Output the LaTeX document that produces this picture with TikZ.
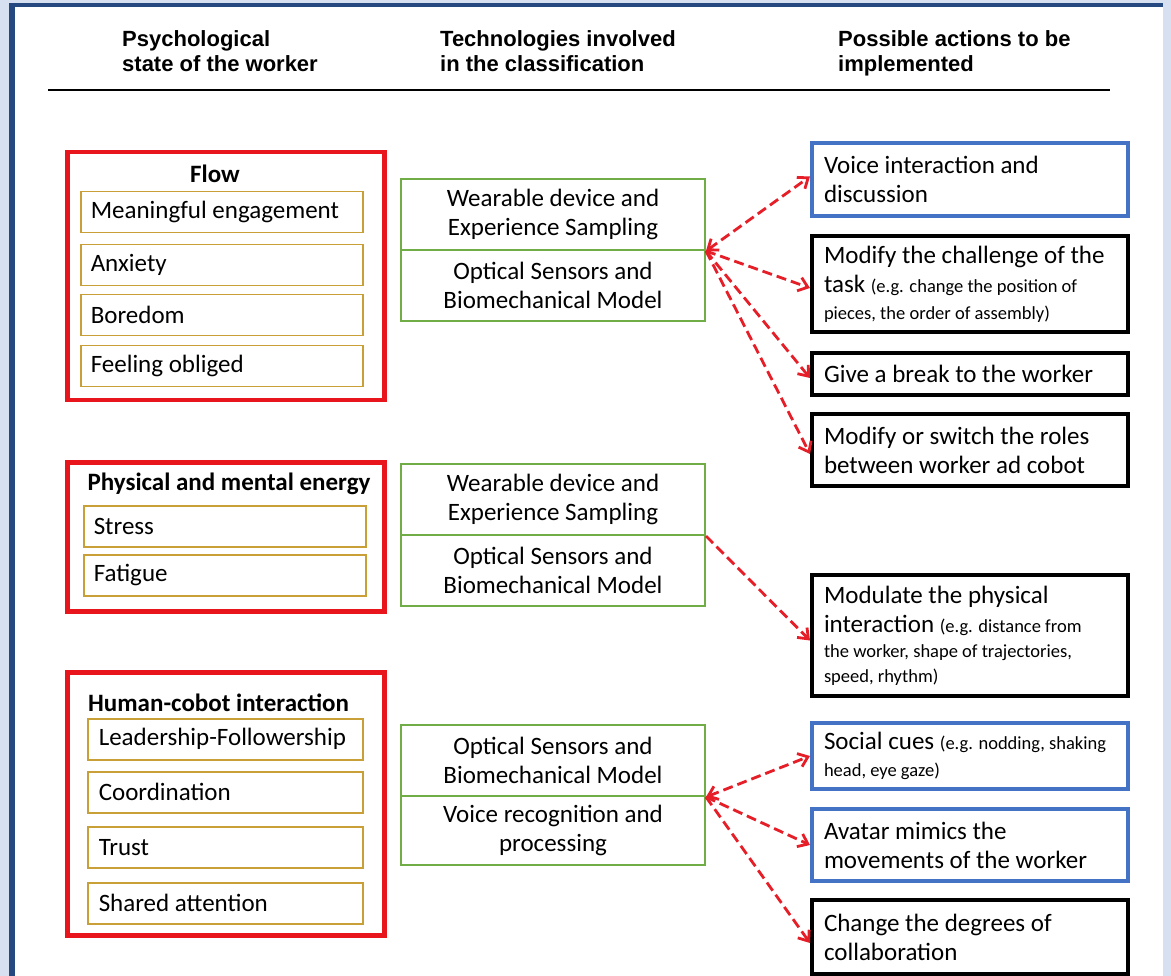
\documentclass[tikz,border=0pt]{standalone}
\usepackage{fontspec}
\setmainfont{Carlito}
\newfontfamily\hdrfont{Liberation Sans}
\usetikzlibrary{arrows.meta}
\definecolor{redc}{RGB}{232,22,28}
\definecolor{goldc}{RGB}{200,160,55}
\definecolor{greenc}{RGB}{112,173,71}
\definecolor{bluec}{RGB}{68,114,196}
\definecolor{framedark}{RGB}{38,72,128}
\definecolor{framelight}{RGB}{214,224,240}
\definecolor{arrowc}{RGB}{230,30,40}
\newcommand\egtxt[1]{{\fontsize{18.5}{26}\selectfont #1}}
\begin{document}
\begin{tikzpicture}[x=1pt,y=-1pt,
  hdr/.style={anchor=north west, inner sep=0pt, align=flush left, font=\hdrfont\bfseries\fontsize{22}{25}\selectfont},
  grpbox/.style={draw=redc, line width=4.5pt, anchor=north west, inner sep=0pt, minimum width=317pt},
  grptitle/.style={inner sep=0pt, font=\bfseries\fontsize{25}{28}\selectfont},
  statebox/.style={draw=goldc, line width=1.5pt, anchor=north west, inner xsep=10pt, inner ysep=0pt, text width=262pt, minimum height=41pt, align=flush left, font=\fontsize{25}{28}\selectfont},
  statebox2/.style={statebox, inner xsep=11pt, text width=253pt},
  techbox/.style={draw=greenc, line width=2pt, anchor=north west, minimum width=304pt, minimum height=71pt, align=center, inner sep=0pt, font=\fontsize{25}{29.5}\selectfont},
  actbox/.style={draw=black, line width=4pt, anchor=north west, inner xsep=12pt, inner ysep=0pt, text width=292pt, align=flush left, font=\fontsize{25}{29}\selectfont},
  actblue/.style={actbox, draw=bluec},
  link/.style={draw=arrowc, line width=2.8pt, dash pattern=on 10pt off 5pt, -{Straight Barb[length=9pt,width=14pt]}},
  link2/.style={link, {Straight Barb[length=9pt,width=14pt]}-{Straight Barb[length=9pt,width=14pt]}}
]
\useasboundingbox (0,0) rectangle (1171,976);
\fill[white] (0,0) rectangle (1171,976);
% frame
\fill[framelight] (0,0) rectangle (9,976);
\fill[framelight] (1163,0) rectangle (1171,976);
\fill[framelight] (9,0) rectangle (1163,3);
\fill[framedark] (9,3) rectangle (1163,7);
\fill[framedark] (9,3) rectangle (15,976);

% headers
\node[hdr] (h1) at (122,30) {Psychological\\state of the worker};
\node[hdr] (h2) at (440,30) {Technologies involved\\in the classification};
\node[hdr] (h3) at (838,30) {Possible actions to be\\implemented};
\draw[line width=2.5pt] (48,90) -- (1110,90);

% left group 1
\node[grpbox, minimum height=248pt] (flow) at (65,150) {};
\node[grptitle] (flowt) at (215,174) {Flow};
\node[statebox] (s11) at (80,191) {Meaningful engagement};
\node[statebox] (s12) at (80,244) {Anxiety};
\node[statebox] (s13) at (80,294) {Boredom};
\node[statebox] (s14) at (80,345) {Feeling obliged};

% left group 2
\node[grpbox, minimum height=149pt] (phys) at (65,460) {};
\node[grptitle] (physt) at (229,484) {Physical and mental energy};
\node[statebox] (s21) at (83,505) {Stress};
\node[statebox] (s22) at (83,554) {Fatigue};

% left group 3
\node[grpbox, minimum height=263pt] (hci) at (65,670) {};
\node[grptitle, anchor=west] (hcit) at (88,703) {Human-cobot interaction};
\node[statebox2] (s31) at (87,718) {Leadership-Followership};
\node[statebox2] (s32) at (87,771) {Coordination};
\node[statebox2] (s33) at (87,826) {Trust};
\node[statebox2] (s34) at (87,882) {Shared attention};

% technologies
\node[techbox] (g1a) at (400,178) {Wearable device and\\Experience Sampling};
\node[techbox] (g1b) at (400,249) {Optical Sensors and\\Biomechanical Model};
\node[techbox] (g2a) at (400,463) {Wearable device and\\Experience Sampling};
\node[techbox] (g2b) at (400,534) {Optical Sensors and\\Biomechanical Model};
\node[techbox] (g3a) at (400,724) {Optical Sensors and\\Biomechanical Model};
\node[techbox, minimum height=69pt] (g3b) at (400,795) {Voice recognition and\\processing};

% actions
\node[actblue, minimum height=73pt] (a1) at (810,141) {Voice interaction and\\discussion};
\node[actbox, minimum height=96pt] (a2) at (810,234) {Modify the challenge of the\\task \egtxt{(e.g. change the position of}\\[-2pt]\egtxt{pieces, the order of assembly)}};
\node[actbox, minimum height=42pt] (a3) at (810,351) {Give a break to the worker};
\node[actbox, minimum height=72pt] (a4) at (810,412) {Modify or switch the roles\\between worker ad cobot};
\node[actbox, minimum height=121pt] (a5) at (810,573) {Modulate the physical\\interaction \egtxt{(e.g. distance from}\\[-4pt]\egtxt{the worker, shape of trajectories,}\\[-4pt]\egtxt{speed, rhythm)}};
\node[actblue, minimum height=66pt] (a6) at (810,721) {Social cues \egtxt{(e.g. nodding, shaking}\\[-2pt]\egtxt{head, eye gaze)}};
\node[actblue, minimum height=72pt] (a7) at (810,807) {Avatar mimics the\\movements of the worker};
\node[actbox, minimum height=74pt] (a8) at (810,898) {Change the degrees of\\collaboration};

% connectors
\draw[link2] (g1a.south east) -- ([yshift=3pt]a1.west);
\draw[link] (g1a.south east) -- ([yshift=-4pt]a2.west);
\draw[link] (g1a.south east) -- ([yshift=-4pt]a3.west);
\draw[link] (g1a.south east) -- ([yshift=-4pt]a4.west);
\draw[link] (g2a.south east) -- ([yshift=-5pt]a5.west);
\draw[link2] (g3a.south east) -- (a6.west);
\draw[link] (g3a.south east) -- (a7.west);
\draw[link] (g3a.south east) -- ([yshift=-6pt]a8.west);
\end{tikzpicture}
\end{document}
